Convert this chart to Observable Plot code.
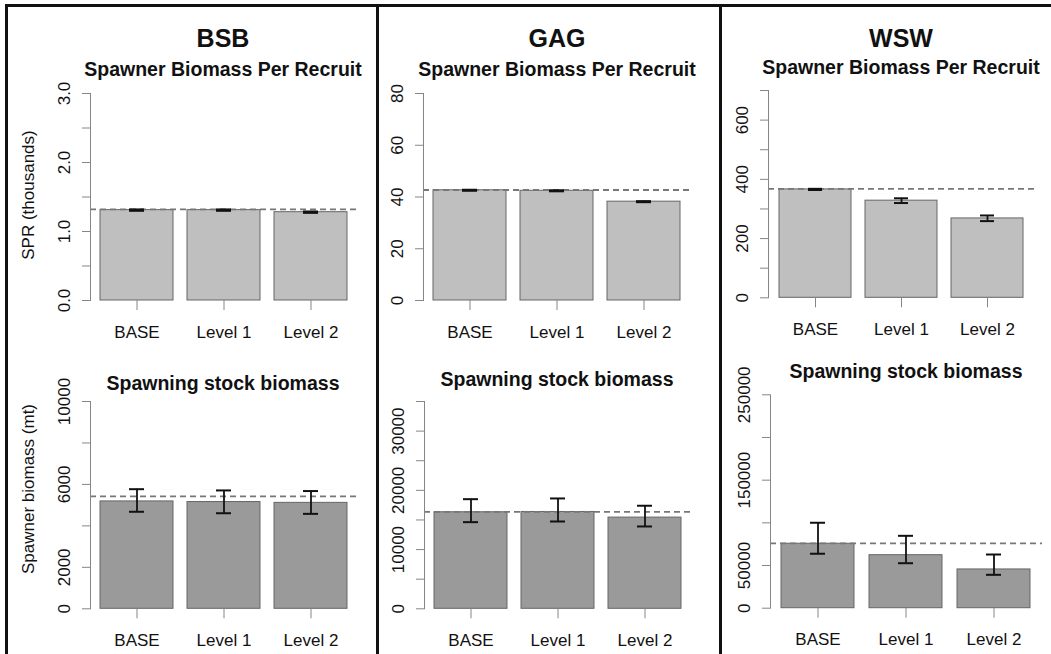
<!DOCTYPE html>
<html><head><meta charset="utf-8">
<script src="https://cdn.jsdelivr.net/npm/d3@7"></script>
<script src="https://cdn.jsdelivr.net/npm/@observablehq/plot@0.6"></script>
<style>
body{margin:0;background:#fff;}
#wrap{position:relative;width:1051px;height:654px;overflow:hidden;background:#fff;font-family:"Liberation Sans",Arial,Helvetica,sans-serif;}
.panel{position:absolute;}
.rule{position:absolute;background:#111;}
#overlay{position:absolute;left:0;top:0;pointer-events:none;}
</style></head><body><div id="wrap"></div>
<script>
// ---------- data ----------
const scenarios = ["BASE", "Level 1", "Level 2"];
const species = ["BSB", "GAG", "WSW"];
const rowTitles = ["Spawner Biomass Per Recruit", "Spawning stock biomass"];
const yTitles = ["SPR (thousands)", "Spawner biomass (mt)"];

// Spawner biomass per recruit
const bsbSpr = [1.31, 1.31, 1.28];
const bsbSprLo = [1.30, 1.30, 1.27];
const bsbSprHi = [1.32, 1.32, 1.29];
const bsbSprRef = 1.32;

const gagSpr = [42.6, 42.4, 38.2];
const gagSprLo = [42.4, 42.2, 38.0];
const gagSprHi = [42.8, 42.6, 38.4];
const gagSprRef = 42.7;

const wswSpr = [366, 328, 268];
const wswSprLo = [364, 320, 259];
const wswSprHi = [368, 336, 278];
const wswSprRef = 368;

// Spawning stock biomass
const bsbSsb = [5180, 5150, 5110];
const bsbSsbLo = [4680, 4610, 4580];
const bsbSsbHi = [5770, 5710, 5680];
const bsbSsbRef = 5420;

const gagSsb = [16300, 16350, 15400];
const gagSsbLo = [14630, 14740, 13900];
const gagSsbHi = [18510, 18630, 17400];
const gagSsbRef = 16350;

const wswSsb = [75500, 62100, 45400];
const wswSsbLo = [63800, 52700, 39100];
const wswSsbHi = [100100, 84800, 62900];
const wswSsbRef = 75900;

// y ticks and labelled ticks
const bsbSprTicks = [0, 0.5, 1, 1.5, 2, 2.5, 3];
const bsbSprLabels = [0, 1, 2, 3];
const gagSprTicks = [0, 20, 40, 60, 80];
const gagSprLabels = [0, 20, 40, 60, 80];
const wswSprTicks = [0, 100, 200, 300, 400, 500, 600, 700];
const wswSprLabels = [0, 200, 400, 600];
const bsbSsbTicks = [0, 2000, 4000, 6000, 8000, 10000];
const bsbSsbLabels = [0, 2000, 6000, 10000];
const gagSsbTicks = [0, 5000, 10000, 15000, 20000, 25000, 30000, 35000];
const gagSsbLabels = [0, 10000, 20000, 30000];
const wswSsbTicks = [0, 50000, 100000, 150000, 200000, 250000];
const wswSsbLabels = [0, 50000, 150000, 250000];

// ---------- layout ----------
const FONT = '"Liberation Sans", Arial, Helvetica, sans-serif';
const INK = "#111";
const AXIS = "#868686";
const fillSpr = "#bfbfbf";
const fillSsb = "#9a9a9a";

const panels = [
  {mean: bsbSpr, lo: bsbSprLo, hi: bsbSprHi, ref: bsbSprRef, ticks: bsbSprTicks, labels: bsbSprLabels, fmt: d => d.toFixed(1), fill: fillSpr,
   box: {x: 8, y: 85, w: 369, h: 265}, m: {l: 82, r: 20, t: 8, b: 50}},
  {mean: gagSpr, lo: gagSprLo, hi: gagSprHi, ref: gagSprRef, ticks: gagSprTicks, labels: gagSprLabels, fmt: d => String(d), fill: fillSpr,
   box: {x: 380, y: 85, w: 340, h: 265}, m: {l: 43, r: 30, t: 8, b: 50}},
  {mean: wswSpr, lo: wswSprLo, hi: wswSprHi, ref: wswSprRef, ticks: wswSprTicks, labels: wswSprLabels, fmt: d => String(d), fill: fillSpr,
   box: {x: 723, y: 85, w: 328, h: 265}, m: {l: 45, r: 17, t: 5, b: 52.7}},
  {mean: bsbSsb, lo: bsbSsbLo, hi: bsbSsbHi, ref: bsbSsbRef, ticks: bsbSsbTicks, labels: bsbSsbLabels, fmt: d => String(d), fill: fillSsb,
   box: {x: 8, y: 385, w: 369, h: 269}, m: {l: 82, r: 20, t: 16, b: 45.7}},
  {mean: gagSsb, lo: gagSsbLo, hi: gagSsbHi, ref: gagSsbRef, ticks: gagSsbTicks, labels: gagSsbLabels, fmt: d => String(d), fill: fillSsb,
   box: {x: 380, y: 385, w: 340, h: 269}, m: {l: 44, r: 29, t: 16, b: 45.7}},
  {mean: wswSsb, lo: wswSsbLo, hi: wswSsbHi, ref: wswSsbRef, ticks: wswSsbTicks, labels: wswSsbLabels, fmt: d => String(d), fill: fillSsb,
   box: {x: 723, y: 385, w: 328, h: 269}, m: {l: 47, r: 9, t: 9.3, b: 46.3}}
];

const wrap = document.getElementById("wrap");

function makePanel(p) {
  const data = scenarios.map((s, i) => ({s, mean: p.mean[i], lo: p.lo[i], hi: p.hi[i]}));
  const ymax = p.ticks[p.ticks.length - 1];
  return Plot.plot({
    width: p.box.w, height: p.box.h,
    marginLeft: p.m.l, marginRight: p.m.r, marginTop: p.m.t, marginBottom: p.m.b,
    style: {fontFamily: FONT, fontSize: "17px", color: INK, background: "transparent", overflow: "visible"},
    x: {type: "band", domain: scenarios, paddingInner: 0.2 / 1.2, paddingOuter: 0.136 / 1.2, label: null},
    y: {domain: [0, ymax], nice: false, label: null},
    marks: [
      Plot.barY(data, {x: "s", y: "mean", fill: p.fill, stroke: "#666", strokeWidth: 1}),
      Plot.ruleY([p.ref], {stroke: "#777", strokeWidth: 1.8, strokeDasharray: "6,4"}),
      Plot.ruleX(data, {x: "s", y1: "lo", y2: "hi", stroke: "#111", strokeWidth: 1.8}),
      Plot.tickY(data, {x: "s", y: "lo", insetLeft: 29, insetRight: 29, stroke: "#111", strokeWidth: 2}),
      Plot.tickY(data, {x: "s", y: "hi", insetLeft: 29, insetRight: 29, stroke: "#111", strokeWidth: 2}),
      Plot.frame({anchor: "left", stroke: AXIS}),
      Plot.axisY(p.ticks, {tickSize: 8, tickFormat: () => "", stroke: AXIS, label: null}),
      Plot.text(p.labels, {y: d => d, text: p.fmt, frameAnchor: "left", rotate: -90, textAnchor: "middle", lineAnchor: "middle", dx: -26, fontSize: 17, fill: INK}),
      Plot.axisX({tickSize: 10, tickPadding: 15, stroke: AXIS, fill: INK, fontSize: 17, label: null})
    ]
  });
}

for (const p of panels) {
  const div = document.createElement("div");
  div.className = "panel";
  div.style.left = p.box.x + "px";
  div.style.top = p.box.y + "px";
  div.appendChild(makePanel(p));
  wrap.appendChild(div);
}

// borders / dividers
const rules = [
  {l: 5, t: 4, w: 1046, h: 3},
  {l: 5, t: 4, w: 3, h: 650},
  {l: 376, t: 4, w: 3, h: 650},
  {l: 719, t: 4, w: 3, h: 650}
];
for (const r of rules) {
  const d = document.createElement("div");
  d.className = "rule";
  Object.assign(d.style, {left: r.l + "px", top: r.t + "px", width: r.w + "px", height: r.h + "px"});
  wrap.appendChild(d);
}

// titles overlay
const svg = d3.create("svg").attr("id", "overlay").attr("width", 1051).attr("height", 654)
  .style("font-family", FONT).style("fill", INK);
const colCenters = [223, 557, 901];
const bottomCenters = [223, 557, 906];
species.forEach((s, i) => {
  svg.append("text").attr("x", colCenters[i]).attr("y", 47).attr("text-anchor", "middle")
    .attr("font-size", 25).attr("font-weight", "bold").text(s);
});
const topBase = [76, 76, 74];
const botBase = [390, 386, 378];
colCenters.forEach((c, i) => {
  svg.append("text").attr("x", c).attr("y", topBase[i]).attr("text-anchor", "middle")
    .attr("font-size", 19.5).attr("font-weight", "bold").text(rowTitles[0]);
  svg.append("text").attr("x", bottomCenters[i]).attr("y", botBase[i]).attr("text-anchor", "middle")
    .attr("font-size", 19.5).attr("font-weight", "bold").text(rowTitles[1]);
});
const yt = [[28, 195], [28, 489]];
yTitles.forEach((t, i) => {
  svg.append("text").attr("transform", `translate(${yt[i][0]},${yt[i][1]}) rotate(-90)`)
    .attr("text-anchor", "middle").attr("dy", "0.35em").attr("font-size", 17).text(t);
});
wrap.appendChild(svg.node());
</script></body></html>
